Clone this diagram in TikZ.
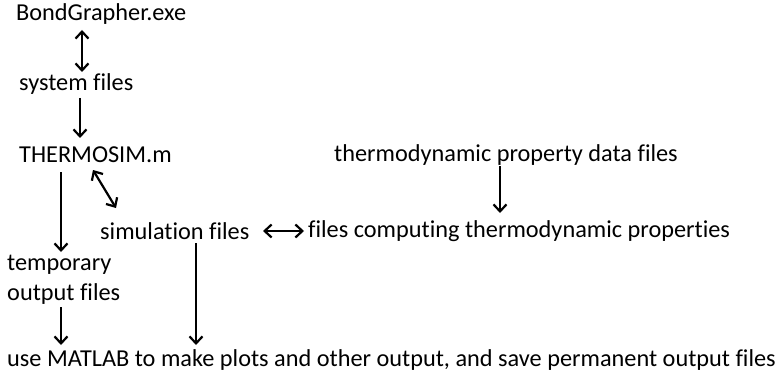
\documentclass[tikz,border=0pt]{standalone}
\usepackage{fontspec}
\setmainfont[Ligatures=NoCommon]{Carlito}
\usetikzlibrary{arrows.meta}
\begin{document}
\begin{tikzpicture}[x=1pt,y=-1pt,
  lbl/.style={anchor=west,inner sep=0pt,font=\fontsize{24.3}{30}\selectfont},
  conn/.style={line width=2.2pt,-{Straight Barb[length=7pt,width=13pt,line width=2.2pt]}},
  conn2/.style={line width=2.2pt,{Straight Barb[length=7pt,width=13pt,line width=2.2pt]}-{Straight Barb[length=7pt,width=13pt,line width=2.2pt]}}]
\useasboundingbox (0,0) rectangle (776,377);
\node[lbl] (bg) at (16,14) {BondGrapher.exe};
\node[lbl] (sys) at (19,84) {system files};
\node[lbl] (th) at (19,155) {THERMOSIM.m};
\node[lbl] (tpd) at (334,155) {thermodynamic property data files};
\node[lbl] (sim) at (100,231) {simulation files};
\node[lbl] (fc) at (308,231) {files computing thermodynamic properties};
\node[lbl,align=left] (tmp) at (7,280) {temporary\\output files};
\node[lbl] (use) at (7,360) {use MATLAB to make plots and other output, and save permanent output files};
\coordinate (a1) at (82,30); \coordinate (a2) at (82,72);
\draw[conn2] (a1) -- (a2);
\coordinate (b1) at (80,98); \coordinate (b2) at (80,138);
\draw[conn] (b1) -- (b2);
\coordinate (c1) at (93,170); \coordinate (c2) at (116,208);
\draw[conn2] (c1) -- (c2);
\coordinate (d1) at (61,172); \coordinate (d2) at (61,252);
\draw[conn] (d1) -- (d2);
\coordinate (e1) at (61,307); \coordinate (e2) at (61,345);
\draw[conn] (e1) -- (e2);
\coordinate (f1) at (196,243); \coordinate (f2) at (196,345);
\draw[conn] (f1) -- (f2);
\coordinate (g1) at (263,231); \coordinate (g2) at (304,231);
\draw[conn2] (g1) -- (g2);
\coordinate (h1) at (500,166); \coordinate (h2) at (500,213);
\draw[conn] (h1) -- (h2);
\end{tikzpicture}
\end{document}
